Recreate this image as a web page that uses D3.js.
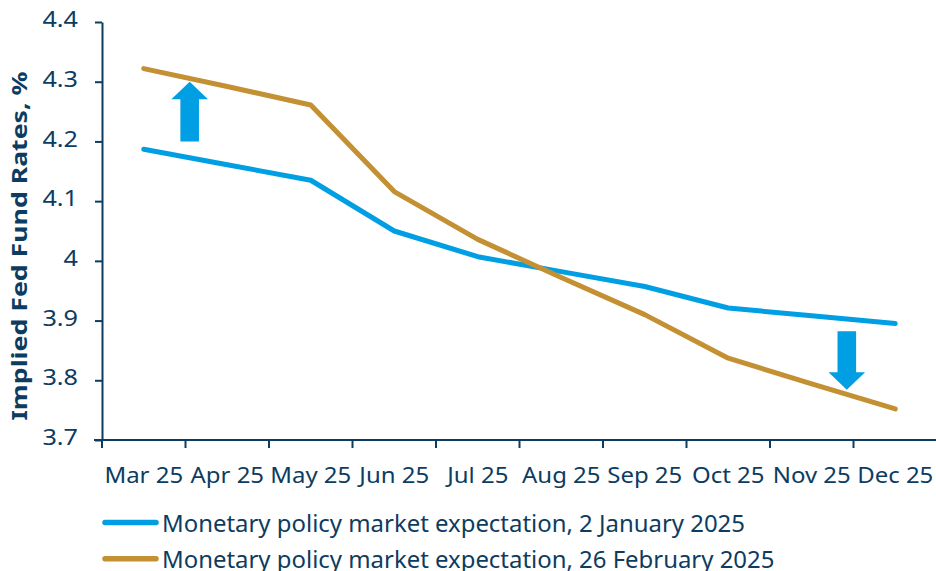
<!DOCTYPE html>
<html>
<head>
<meta charset="utf-8">
<script src="https://cdn.jsdelivr.net/npm/d3@7"></script>
<style>
  body { margin: 0; background: #fff; }
  svg text { font-family: "Noto Sans", "Open Sans", sans-serif; }
</style>
</head>
<body>
<div id="chart"></div>
<script>
// months on the x axis
const months = ["Mar 25", "Apr 25", "May 25", "Jun 25", "Jul 25", "Aug 25", "Sep 25", "Oct 25", "Nov 25", "Dec 25"];
// implied rates
const janValues = [4.187, 4.161, 4.135, 4.050, 4.007, 3.982, 3.957, 3.921, 3.908, 3.895];
const febValues = [4.322, 4.292, 4.261, 4.116, 4.036, 3.972, 3.910, 3.837, 3.794, 3.752];
const yTicks = [3.7, 3.8, 3.9, 4, 4.1, 4.2, 4.3, 4.4];
const legendLabels = ["Monetary policy market expectation, 2 January 2025",
                      "Monetary policy market expectation, 26 February 2025"];
// arrows: position in month index, start value, end value
const arrows = [
  { at: 0.55, from: 4.2, to: 4.3 },
  { at: 8.42, from: 3.882, to: 3.784 }
];

const W = 936, H = 571;
const margin = {top: 22, left: 102};
const width = 937 - margin.left, height = 440 - margin.top;
const navy = "#0d3c61", blue = "#009fe3", gold = "#c39133";

// the source font runs a bit wider than Noto Sans, so stretch text along its baseline
function stretch(sel, k) {
  sel.each(function() {
    const L = this.getComputedTextLength();
    d3.select(this).attr("textLength", L * k).attr("lengthAdjust", "spacingAndGlyphs");
  });
}

const svg = d3.select("#chart").append("svg")
  .attr("width", W).attr("height", H);
const g = svg.append("g").attr("transform", `translate(${margin.left},${margin.top})`);

const x = d3.scaleBand().domain(months).range([0, width]);
const xi = i => x.step() * i + x.bandwidth() / 2;
const y = d3.scaleLinear().domain([3.7, 4.4]).range([height, 0]);

// y axis
const yAxis = g.append("g")
  .call(d3.axisLeft(y).tickValues(yTicks).tickFormat(d3.format("")).tickSizeInner(7).tickSizeOuter(0).tickPadding(17));
yAxis.selectAll("text").attr("font-size", 21).attr("fill", navy).attr("dy", "0.22em")
  .call(stretch, 1.2);

// x axis
const xAxis = g.append("g")
  .attr("transform", `translate(0,${height})`)
  .call(d3.axisBottom(x).tickSize(0).tickPadding(27));
xAxis.selectAll("text").attr("font-size", 22.4).attr("fill", navy)
  .call(stretch, 1.07);
// ticks at band boundaries
xAxis.selectAll(".bound").data(d3.range(months.length + 1)).enter()
  .append("line").attr("class", "bound")
  .attr("x1", d => d * x.step()).attr("x2", d => d * x.step())
  .attr("y1", 0).attr("y2", 8);
g.selectAll(".domain, .tick line, .bound").attr("stroke", navy).attr("stroke-width", 2);
xAxis.select(".domain").attr("d", `M-8,0H${width}`);

// y title
svg.append("text")
  .attr("transform", `translate(27,246) rotate(-90)`)
  .attr("text-anchor", "middle")
  .attr("font-size", 21.5).attr("font-weight", "bold").attr("fill", navy)
  .text("Implied Fed Fund Rates, %")
  .call(stretch, 1.24);

// lines
const line = d3.line().x((d, i) => xi(i)).y(d => y(d));
[[janValues, blue], [febValues, gold]].forEach(([vals, col]) => {
  g.append("path").datum(vals)
    .attr("fill", "none").attr("stroke", col).attr("stroke-width", 5)
    .attr("stroke-linecap", "round").attr("stroke-linejoin", "round")
    .attr("d", line);
});

// arrows
arrows.forEach(a => {
  const cx = xi(a.at), y0 = y(a.from), y1 = y(a.to);
  const dir = y1 < y0 ? -1 : 1;
  const sw = 9.3, hw = 18.3, hl = 17.5;
  const hb = y1 - dir * hl;
  const pts = [[cx - sw, y0], [cx - sw, hb], [cx - hw, hb], [cx, y1], [cx + hw, hb], [cx + sw, hb], [cx + sw, y0]];
  g.append("path").attr("d", "M" + pts.join("L") + "Z").attr("fill", blue);
});

// legend
const leg = svg.append("g");
legendLabels.forEach((t, i) => {
  const row = leg.append("g").attr("transform", `translate(0,${522.5 + i * 36.3})`);
  row.append("line").attr("x1", 105).attr("x2", 156).attr("y1", 0).attr("y2", 0)
    .attr("stroke", i === 0 ? blue : gold).attr("stroke-width", 5.5).attr("stroke-linecap", "round");
  row.append("text").attr("x", 162).attr("y", 9.2)
    .attr("font-size", 23).attr("fill", navy).text(t)
    .call(stretch, 1.04);
});
</script>
</body>
</html>
